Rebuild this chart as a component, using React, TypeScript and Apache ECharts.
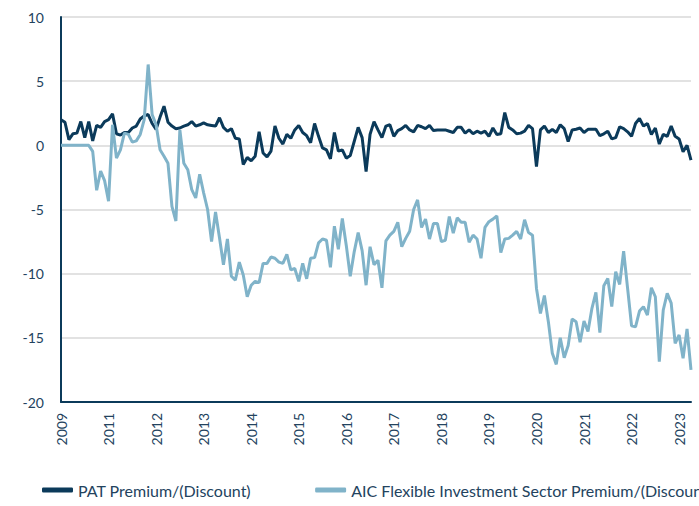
import React, { useEffect, useRef } from "react";
import * as echarts from "echarts";

// Monthly observations, first point = "2009" label position, last = spring 2023
const patPremium: number[] = [
  2.0, 1.8, 0.45, 0.9, 0.95, 1.85, 0.6, 1.85, 0.35, 1.55,
  1.4, 1.85, 2.0, 2.45, 0.9, 0.8, 1.0, 1.0, 1.35, 1.5,
  2.05, 2.3, 2.4, 1.7, 1.25, 2.2, 3.05, 1.8, 1.5, 1.3,
  1.35, 1.5, 1.6, 1.85, 1.5, 1.6, 1.75, 1.6, 1.55, 1.5,
  2.15, 1.4, 1.1, 1.3, 0.55, 0.5, -1.5, -0.95, -1.2, -0.85,
  1.05, -0.6, -0.9, -0.45, 1.5, 0.55, 0.1, 0.85, 0.55, 1.2,
  1.55, 1.0, 0.75, 0.2, 1.7, 0.7, -0.2, -0.35, -1.05, 1.0,
  -0.45, -0.35, -1.0, -0.8, 0.3, 1.4, 0.6, -2.05, 0.85, 1.85,
  1.2, 0.6, 1.5, 1.6, 0.7, 1.15, 1.3, 1.55, 1.2, 1.05,
  1.55, 1.45, 1.3, 1.55, 1.15, 1.2, 1.2, 1.2, 1.1, 1.0,
  1.4, 1.4, 0.95, 1.2, 0.9, 1.1, 0.95, 1.1, 0.7, 1.35,
  0.85, 0.9, 2.55, 1.4, 1.2, 0.9, 0.95, 1.1, 1.55, 1.3,
  -1.65, 1.2, 1.5, 1.0, 1.25, 1.0, 1.6, 1.3, 0.3, 1.2,
  1.25, 1.35, 1.0, 1.25, 1.25, 1.25, 0.75, 0.9, 1.1, 0.5,
  0.6, 1.45, 1.3, 1.05, 0.7, 1.7, 2.1, 1.5, 1.7, 0.85,
  1.35, 0.1, 0.85, 0.7, 1.5, 0.7, 0.5, -0.5, 0.0, -1.15,
];

const aicSector: number[] = [
  0, 0, 0, 0, 0, 0, 0, 0, -0.47, -3.5,
  -2.0, -2.75, -4.35, 1.6, -1.0, -0.35, 0.95, 0.85, 0.25, 0.35,
  0.85, 2.0, 6.3, 2.4, 1.6, -0.35, -0.85, -1.4, -4.75, -5.9,
  1.2, -1.4, -1.9, -3.45, -4.1, -2.25, -3.7, -5.0, -7.5, -5.2,
  -7.2, -9.3, -7.3, -10.2, -10.5, -9.1, -10.1, -11.8, -10.9, -10.6,
  -10.7, -9.2, -9.2, -8.7, -8.8, -9.1, -9.2, -8.5, -9.7, -9.6,
  -10.6, -9.2, -10.4, -8.8, -8.75, -7.6, -7.3, -7.4, -9.5, -6.3,
  -8.1, -5.7, -7.8, -10.2, -8.3, -6.8, -8.2, -10.9, -7.9, -9.3,
  -8.95, -11.1, -7.45, -7.0, -6.7, -6.0, -7.9, -7.25, -6.7, -5.0,
  -4.25, -6.4, -5.75, -7.3, -6.1, -6.1, -7.5, -7.4, -5.55, -6.85,
  -5.65, -6.0, -6.0, -7.55, -7.0, -7.3, -8.8, -6.4, -5.95, -5.75,
  -5.5, -8.35, -7.3, -7.25, -7.0, -6.7, -7.3, -5.8, -6.8, -7.0,
  -11.15, -13.1, -11.7, -13.74, -16.2, -17.07, -14.99, -16.55, -15.6, -13.54,
  -13.74, -15.35, -13.7, -14.5, -12.7, -11.46, -14.6, -10.94, -10.37, -12.57,
  -9.85, -10.84, -8.24, -11.15, -14.06, -14.14, -12.91, -12.57, -13.23, -11.1,
  -11.8, -16.86, -12.83, -11.54, -12.3, -15.43, -14.78, -16.6, -14.3, -17.5,
];

const xTickLabels: string[] = [
  "2009", "2011", "2012", "2013", "2014", "2015", "2016",
  "2017", "2018", "2019", "2020", "2021", "2022", "2023",
];
const xTickIndex: number[] = [0, 12, 24, 36, 48, 60, 72, 84, 96, 108, 120, 132, 144, 156];

const seriesNames: string[] = [
  "PAT Premium/(Discount)",
  "AIC Flexible Investment Sector Premium/(Discount)",
];

const months: string[] = patPremium.map((_, i) => {
  const y = 2010 + Math.floor(i / 12);
  const m = (i % 12) + 1;
  return `${y}-${m < 10 ? "0" + m : m}`;
});

const TEXT = "#23435e";
const DARK = "#0b3a5a";
const LIGHT = "#80b3c9";
const FONT = "Lato, 'Open Sans', sans-serif";

export default function App() {
  const ref = useRef<HTMLDivElement>(null);
  useEffect(() => {
    if (!ref.current) return;
    const chart = echarts.init(ref.current, undefined, { renderer: "svg" });
    chart.setOption({
      animation: false,
      backgroundColor: "#ffffff",
      textStyle: { fontFamily: FONT },
      grid: { left: 61, right: 8, top: 17, bottom: 104, containLabel: false },
      legend: {
        left: 42,
        top: 482,
        width: 2000,
        padding: 0,
        itemWidth: 31,
        itemHeight: 5,
        itemGap: 64,
        icon: "roundRect",
        textStyle: { color: TEXT, fontSize: 16, fontFamily: FONT },
        data: seriesNames,
      },
      xAxis: {
        type: "category",
        data: months,
        boundaryGap: false,
        axisLine: { show: true, onZero: false, lineStyle: { color: DARK, width: 2 } },
        axisTick: { show: false },
        splitLine: { show: false },
        axisLabel: {
          rotate: 90,
          margin: 11,
          color: TEXT,
          fontSize: 14,
          fontFamily: FONT,
          interval: (index: number) => xTickIndex.indexOf(index) >= 0,
          formatter: (_v: string, index: number) => {
            const k = xTickIndex.indexOf(index);
            return k >= 0 ? xTickLabels[k] : "";
          },
        },
      },
      yAxis: {
        type: "value",
        min: -20,
        max: 10,
        interval: 5,
        axisLine: { show: true, lineStyle: { color: DARK, width: 2 } },
        axisTick: { show: false },
        splitLine: { show: true, lineStyle: { color: "#d9d9d9", width: 1.5 } },
        axisLabel: { color: TEXT, fontSize: 14, margin: 17, fontFamily: FONT },
      },
      series: [
        {
          name: seriesNames[0],
          type: "line",
          data: patPremium,
          symbol: "none",
          color: DARK,
          lineStyle: { color: DARK, width: 3 },
          z: 2,
        },
        {
          name: seriesNames[1],
          type: "line",
          data: aicSector,
          symbol: "none",
          color: LIGHT,
          lineStyle: { color: LIGHT, width: 3 },
          z: 3,
        },
      ],
    });
    return () => chart.dispose();
  }, []);
  return (
    <div
      ref={ref}
      style={{ position: "fixed", left: 0, top: 0, width: 699, height: 506, background: "#fff" }}
    />
  );
}
